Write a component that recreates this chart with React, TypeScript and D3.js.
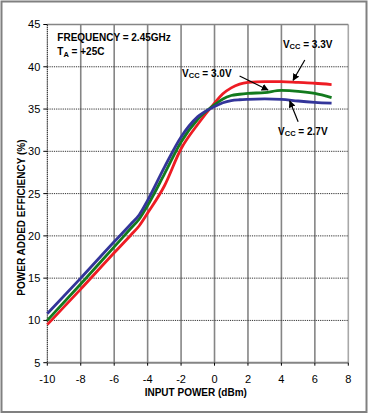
import { useEffect, useRef } from 'react';
import * as d3 from 'd3';

// Input power (dBm) sample points
const inputPower = [-10, -8, -6, -5, -4.5, -4, -3, -2, -1, 0, 0.5, 1, 1.5, 2, 3, 4, 5, 6, 7];

// Power added efficiency (%) for each supply voltage
const pae33 = [9.5, 13.7, 18.0, 20.1, 21.2, 22.7, 25.9, 30.3, 33.2, 35.7, 36.8, 37.5, 37.95, 38.15, 38.25, 38.25, 38.15, 38.05, 37.9];
const pae30 = [10.0, 14.3, 18.7, 20.9, 22.0, 23.6, 27.3, 31.1, 33.8, 35.5, 36.2, 36.6, 36.75, 36.85, 36.95, 37.2, 37.1, 36.85, 36.35];
const pae27 = [10.8, 15.0, 19.3, 21.4, 22.5, 24.2, 28.1, 31.7, 34.1, 35.3, 35.75, 36.0, 36.1, 36.15, 36.2, 36.15, 35.95, 35.8, 35.7];

const xTicks = [-10, -8, -6, -4, -2, 0, 2, 4, 6, 8];
const yTicks = [5, 10, 15, 20, 25, 30, 35, 40, 45];

const seriesNames = ['3.3V', '3.0V', '2.7V'];
const seriesColors = ['#ee1c24', '#137a1e', '#33359a'];

// label anchor [x, y] and arrow [fromX, fromY, toX, toY], in data units
const labelPos = [[4.09, 42.2], [-1.94, 38.83], [3.8, 31.93]];
const arrowPos = [[5.4, 40.8, 4.7, 38.4], [1.5, 38.9, 3.2, 37.25], [5.0, 33.5, 4.5, 35.95]];

function App() {
  const svgRef = useRef<SVGSVGElement>(null);

  useEffect(() => {
    const width = 369;
    const height = 414;
    const margin = { top: 24.5, right: 20.7, bottom: 51.3, left: 47.3 };
    const innerW = width - margin.left - margin.right;
    const innerH = height - margin.top - margin.bottom;

    const root = d3.select(svgRef.current);
    root.selectAll('*').remove();
    root.attr('width', width).attr('height', height);

    // outer frame
    root.append('rect')
      .attr('x', 1.5).attr('y', 1.5)
      .attr('width', 365).attr('height', 410.5)
      .attr('fill', 'white')
      .attr('stroke', '#808080')
      .attr('stroke-width', 2);

    const svg = root.append('g')
      .attr('transform', `translate(${margin.left},${margin.top})`);

    const x = d3.scaleLinear().domain([-10, 8]).range([0, innerW]);
    const y = d3.scaleLinear().domain([5, 45]).range([innerH, 0]);

    // vertical grid (gray, solid)
    svg.selectAll('.vgrid')
      .data(xTicks.filter(d => d > -10))
      .enter().append('line')
      .attr('x1', d => x(d)).attr('x2', d => x(d))
      .attr('y1', 0).attr('y2', innerH)
      .attr('stroke', d => (d === 8 ? '#a8a8a8' : '#858585'))
      .attr('stroke-width', 1.6);

    // horizontal grid (dotted)
    svg.selectAll('.hgrid')
      .data(yTicks.filter(d => d > 5 && d < 45))
      .enter().append('line')
      .attr('x1', 0).attr('x2', innerW)
      .attr('y1', d => y(d)).attr('y2', d => y(d))
      .attr('stroke', '#333')
      .attr('stroke-width', 1)
      .attr('stroke-dasharray', '1.2,1');

    // top and bottom frame lines
    svg.append('line')
      .attr('x1', 0).attr('x2', innerW)
      .attr('y1', y(45)).attr('y2', y(45))
      .attr('stroke', '#858585').attr('stroke-width', 1.6);
    svg.append('line')
      .attr('x1', 0).attr('x2', innerW)
      .attr('y1', y(5)).attr('y2', y(5))
      .attr('stroke', '#858585').attr('stroke-width', 2);

    // left axis line
    svg.append('line')
      .attr('x1', 0).attr('x2', 0)
      .attr('y1', 0).attr('y2', innerH)
      .attr('stroke', '#111').attr('stroke-width', 1)
      .attr('stroke-dasharray', '1.5,0.6');

    // y ticks + labels
    const yAxis = svg.append('g');
    yTicks.forEach(t => {
      yAxis.append('line')
        .attr('x1', -4).attr('x2', 0)
        .attr('y1', y(t)).attr('y2', y(t))
        .attr('stroke', '#000').attr('stroke-width', 1);
      yAxis.append('text')
        .attr('x', -7).attr('y', y(t))
        .attr('dy', '0.36em')
        .attr('text-anchor', 'end')
        .attr('font-family', 'Liberation Sans, Arial, sans-serif')
        .attr('font-size', 11)
        .text(t);
    });

    // x ticks + labels
    const xAxis = svg.append('g').attr('transform', `translate(0,${innerH})`);
    xTicks.forEach(t => {
      xAxis.append('line')
        .attr('x1', x(t)).attr('x2', x(t))
        .attr('y1', 0).attr('y2', 3)
        .attr('stroke', '#000').attr('stroke-width', 1);
      xAxis.append('text')
        .attr('x', x(t)).attr('y', 20)
        .attr('text-anchor', 'middle')
        .attr('font-family', 'Liberation Sans, Arial, sans-serif')
        .attr('font-size', 11)
        .text(t);
    });

    // axis titles
    svg.append('text')
      .attr('x', x(-10) + (x(8) - x(-10)) / 2 - 2).attr('y', innerH + 33.5)
      .attr('text-anchor', 'middle')
      .attr('font-family', 'Liberation Sans, Arial, sans-serif')
      .attr('font-size', 10).attr('font-weight', 'bold')
      .text('INPUT POWER (dBm)');

    svg.append('text')
      .attr('transform', `translate(${-22},${innerH / 2 + 24}) rotate(-90)`)
      .attr('text-anchor', 'middle')
      .attr('font-family', 'Liberation Sans, Arial, sans-serif')
      .attr('font-size', 10).attr('font-weight', 'bold')
      .text('POWER ADDED EFFICIENCY (%)');

    // curves
    const allSeries = [pae33, pae30, pae27];
    const line = d3.line<number>()
      .x((d, i) => x(inputPower[i]))
      .y(d => y(d))
      .curve(d3.curveMonotoneX);

    allSeries.forEach((s, i) => {
      svg.append('path')
        .datum(s)
        .attr('d', line)
        .attr('fill', 'none')
        .attr('stroke', seriesColors[i])
        .attr('stroke-width', 2.8)
        .attr('stroke-linejoin', 'round');
    });

    // conditions text
    const info = svg.append('text')
      .attr('x', 10).attr('y', 16.5)
      .attr('font-family', 'Liberation Sans, Arial, sans-serif')
      .attr('font-size', 10).attr('font-weight', 'bold');
    info.text('FREQUENCY = 2.45GHz');
    const ta = svg.append('text')
      .attr('x', 10).attr('y', 30.5)
      .attr('font-family', 'Liberation Sans, Arial, sans-serif')
      .attr('font-size', 10).attr('font-weight', 'bold');
    ta.append('tspan').text('T');
    ta.append('tspan').attr('font-size', 7.5).attr('dy', 2).text('A');
    ta.append('tspan').attr('dy', -2).text(' = +25C');

    // arrowhead marker
    root.append('defs').append('marker')
      .attr('id', 'arrowhead')
      .attr('viewBox', '0 0 10 10')
      .attr('refX', 9).attr('refY', 5)
      .attr('markerWidth', 7).attr('markerHeight', 7)
      .attr('markerUnits', 'userSpaceOnUse')
      .attr('orient', 'auto')
      .append('path')
      .attr('d', 'M0,0 L10,5 L0,10 z')
      .attr('fill', '#000');

    // Vcc annotations
    seriesNames.forEach((name, i) => {
      const [lx, ly] = labelPos[i];
      const t = svg.append('text')
        .attr('x', x(lx)).attr('y', y(ly))
        .attr('font-family', 'Liberation Sans, Arial, sans-serif')
        .attr('font-size', 10).attr('font-weight', 'bold');
      t.append('tspan').text('V');
      t.append('tspan').attr('font-size', 7.5).attr('dy', 1).text('CC');
      t.append('tspan').attr('dy', -1).text(` = ${name}`);

      const [x1, y1, x2, y2] = arrowPos[i];
      svg.append('line')
        .attr('x1', x(x1)).attr('y1', y(y1))
        .attr('x2', x(x2)).attr('y2', y(y2))
        .attr('stroke', '#000').attr('stroke-width', 1.2)
        .attr('marker-end', 'url(#arrowhead)');
    });
  }, []);

  return (
    <div>
      <svg ref={svgRef} style={{ position: 'absolute', left: 0, top: 0 }}></svg>
    </div>
  );
}

export default App;
